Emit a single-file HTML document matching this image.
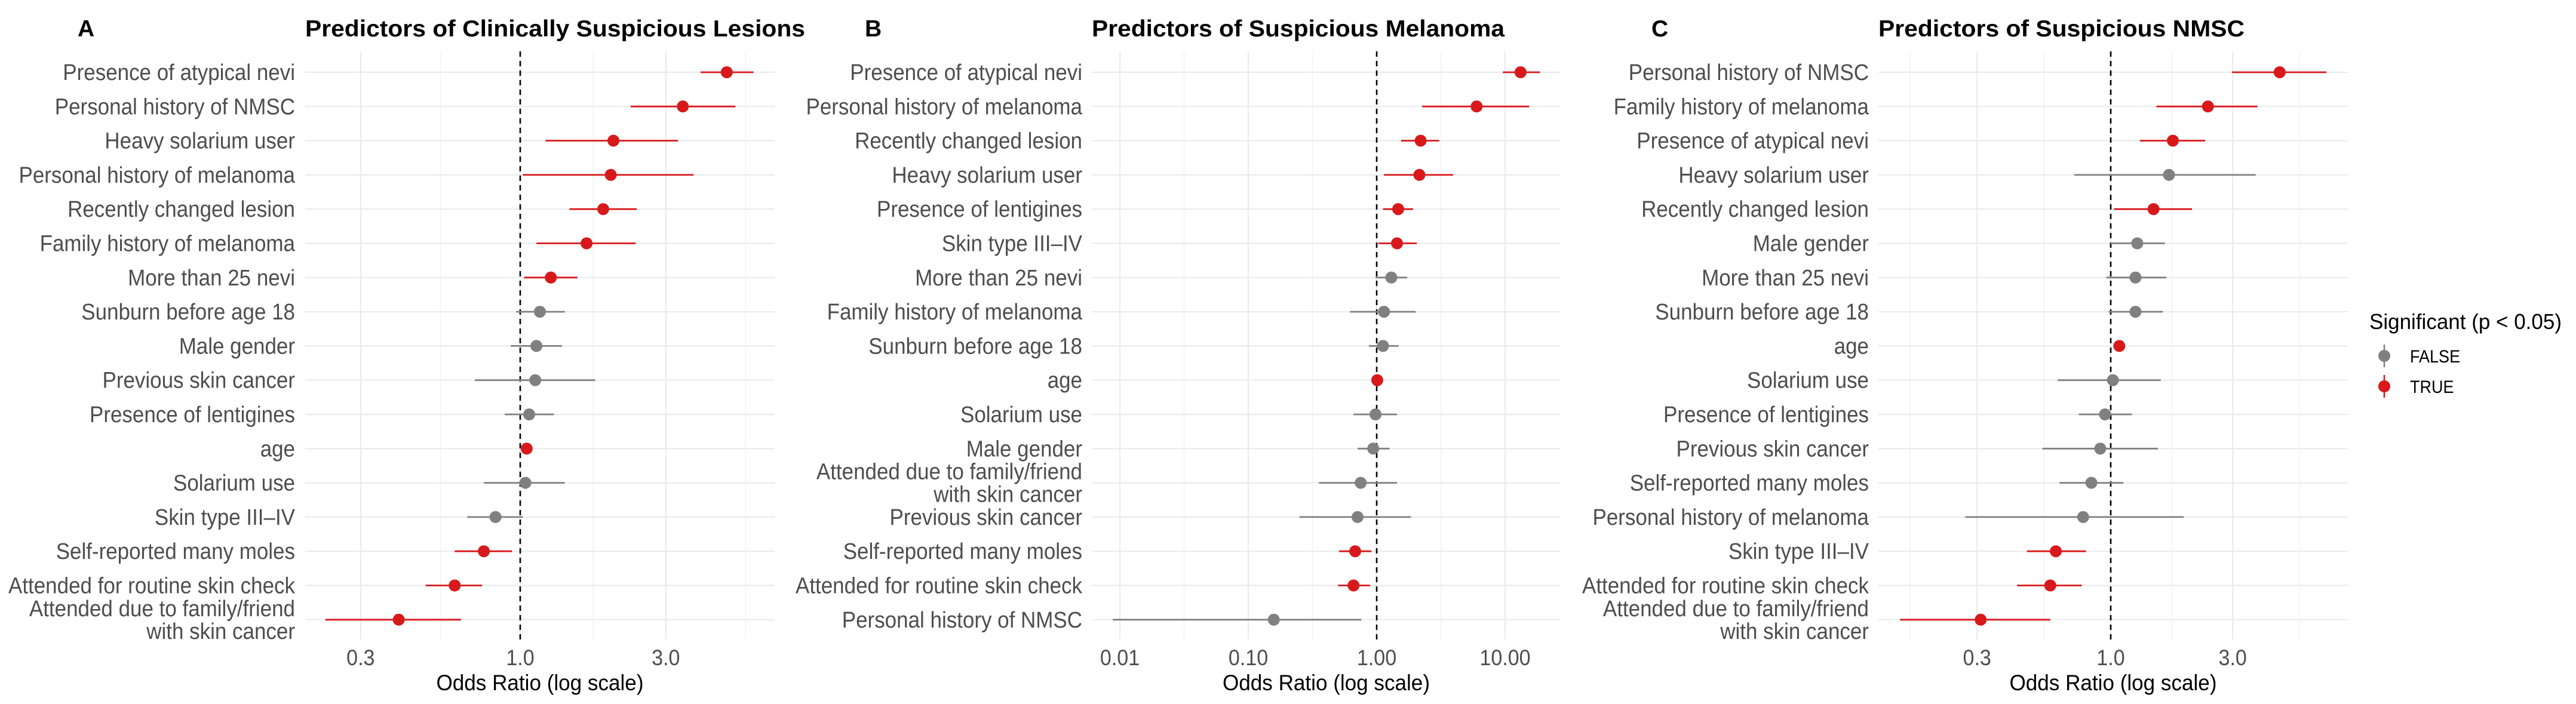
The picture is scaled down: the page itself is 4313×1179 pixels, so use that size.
<!DOCTYPE html>
<html><head><meta charset="utf-8"><style>
html,body{margin:0;padding:0;background:#fff;}
svg{display:block;font-family:"Liberation Sans",Arial,sans-serif;}
</style></head><body>
<svg id="fig" width="4313" height="1179" viewBox="0 0 4313 1179" xmlns="http://www.w3.org/2000/svg"></svg>
<script>
// Panel A data
const labelsA = ["Presence of atypical nevi","Personal history of NMSC","Heavy solarium user","Personal history of melanoma","Recently changed lesion","Family history of melanoma","More than 25 nevi","Sunburn before age 18","Male gender","Previous skin cancer","Presence of lentigines","age","Solarium use","Skin type III–IV","Self-reported many moles","Attended for routine skin check","Attended due to family/friend\nwith skin cancer"];
const orA = [4.75,3.41,2.02,1.98,1.87,1.65,1.26,1.16,1.13,1.12,1.07,1.05,1.04,0.83,0.76,0.61,0.40];
const loA = [3.90,2.30,1.21,1.02,1.45,1.13,1.03,0.97,0.93,0.71,0.89,1.02,0.76,0.67,0.61,0.49,0.23];
const hiA = [5.81,5.07,3.29,3.70,2.41,2.39,1.54,1.40,1.37,1.76,1.29,1.09,1.40,1.02,0.94,0.75,0.64];
const sigA = [1,1,1,1,1,1,1,0,0,0,0,1,0,0,1,1,1];
const ticksA = [0.3,1,3];
const tickLabelsA = ["0.3","1.0","3.0"];
const minorA = [0.548,1.732,5.477];
// Panel B data
const labelsB = ["Presence of atypical nevi","Personal history of melanoma","Recently changed lesion","Heavy solarium user","Presence of lentigines","Skin type III–IV","More than 25 nevi","Family history of melanoma","Sunburn before age 18","age","Solarium use","Male gender","Attended due to family/friend\nwith skin cancer","Previous skin cancer","Self-reported many moles","Attended for routine skin check","Personal history of NMSC"];
const orB = [13.2,6.0,2.2,2.15,1.47,1.44,1.30,1.14,1.12,1.01,0.98,0.94,0.75,0.71,0.68,0.66,0.158];
const loB = [9.6,2.26,1.55,1.14,1.12,1.03,0.98,0.62,0.87,0.99,0.66,0.71,0.355,0.25,0.51,0.50,0.0088];
const hiB = [18.7,15.4,3.07,3.94,1.92,2.05,1.73,2.01,1.48,1.04,1.44,1.26,1.44,1.85,0.91,0.89,0.76];
const sigB = [1,1,1,1,1,1,0,0,0,1,0,0,0,0,1,1,0];
const ticksB = [0.01,0.1,1,10];
const tickLabelsB = ["0.01","0.10","1.00","10.00"];
const minorB = [0.0316,0.316,3.16];
// Panel C data
const labelsC = ["Personal history of NMSC","Family history of melanoma","Presence of atypical nevi","Heavy solarium user","Recently changed lesion","Male gender","More than 25 nevi","Sunburn before age 18","age","Solarium use","Presence of lentigines","Previous skin cancer","Self-reported many moles","Personal history of melanoma","Skin type III–IV","Attended for routine skin check","Attended due to family/friend\nwith skin cancer"];
const orC = [4.58,2.40,1.75,1.69,1.47,1.27,1.25,1.25,1.08,1.02,0.95,0.91,0.84,0.78,0.61,0.58,0.31];
const loC = [2.98,1.51,1.30,0.72,1.03,1.00,0.96,0.98,1.05,0.62,0.75,0.54,0.63,0.27,0.47,0.43,0.15];
const hiC = [6.98,3.75,2.34,3.69,2.08,1.63,1.65,1.60,1.11,1.57,1.21,1.53,1.12,1.93,0.80,0.77,0.58];
const sigC = [1,1,1,0,1,0,0,0,1,0,0,0,0,0,1,1,1];
const ticksC = [0.3,1,3];
const tickLabelsC = ["0.3","1.0","3.0"];
const minorC = [0.164,0.548,1.732,5.477];

const NS="http://www.w3.org/2000/svg";
const svg=document.getElementById('fig');
const RED="#d7191c", GREY="#808080";
function mk(tag,attrs,parent){const e=document.createElementNS(NS,tag);for(const k in attrs)e.setAttribute(k,attrs[k]);(parent||svg).appendChild(e);return e;}
function squeeze(t,f){const w=t.getComputedTextLength();t.setAttribute('textLength',(w*f).toFixed(1));t.setAttribute('lengthAdjust','spacingAndGlyphs');}

const TOP=86,BOT=1071,Y0=121,STEP=57.3;
function panel(p){
  const g=mk('g',{});
  
  
  const xs=v=>p.x1+p.dec*Math.log10(v);
  const ys=i=>Y0+i*STEP;
  p.minor.forEach(v=>{const l=mk('line',{x1:xs(v),x2:xs(v),y1:TOP,y2:BOT,stroke:'#f2f2f2','stroke-width':1.5},g);
    });
  p.ticks.forEach(v=>{const l=mk('line',{x1:xs(v),x2:xs(v),y1:TOP,y2:BOT,stroke:'#ebebeb','stroke-width':2.2},g);
    });
  p.labels.forEach((lab,i)=>{const l=mk('line',{x1:p.left,x2:p.right,y1:ys(i),y2:ys(i),stroke:'#ebebeb','stroke-width':2.2},g);
    });
  const ref=mk('line',{x1:xs(1),x2:xs(1),y1:TOP,y2:BOT,stroke:'#000','stroke-width':2.6,'stroke-dasharray':'9,7'},g);
  
  p.labels.forEach((lab,i)=>{
    const parts=lab.split('\n');
    parts.forEach((s,k)=>{
      const y=ys(i)+13+(k-(parts.length-1)/2)*38;
      const t=mk('text',{x:p.labelX,y:y,'text-anchor':'end','font-size':38,fill:'#4d4d4d'},g);
      t.textContent=s;
      
      squeeze(t,0.92);
    });
  });
  p.labels.forEach((lab,i)=>{
    const c=p.sig[i]?RED:GREY;
    const e=mk('line',{x1:xs(p.lo[i]),x2:xs(p.hi[i]),y1:ys(i),y2:ys(i),stroke:c,'stroke-width':2.8},g);
    
    const d=mk('circle',{cx:xs(p.or[i]),cy:ys(i),r:10,fill:c},g);
    
  });
  p.ticks.forEach((v,i)=>{const t=mk('text',{x:xs(v),y:1114,'text-anchor':'middle','font-size':37,fill:'#4d4d4d'},g);
    t.textContent=p.tickLabels[i];squeeze(t,0.92);});
  const at=mk('text',{x:(p.left+p.right)/2,y:1156,'text-anchor':'middle','font-size':37,fill:'#000'},g);
  at.textContent='Odds Ratio (log scale)';
  at.setAttribute('textLength',347);at.setAttribute('lengthAdjust','spacingAndGlyphs');
  const tt=mk('text',{x:p.left,y:61,'font-size':39,'font-weight':'bold',fill:'#000'},g);
  tt.textContent=p.title;
  tt.setAttribute('textLength',p.titleW);tt.setAttribute('lengthAdjust','spacingAndGlyphs');
  const tg=mk('text',{x:p.tagX,y:61,'font-size':39,'font-weight':'bold',fill:'#000'},g);
  tg.textContent=p.id;
}
panel({id:'A',title:'Predictors of Clinically Suspicious Lesions',titleW:837,tagX:130,left:511,right:1297,x1:871,dec:511,labelX:494,
  labels:labelsA,or:orA,lo:loA,hi:hiA,sig:sigA,ticks:ticksA,tickLabels:tickLabelsA,minor:minorA});
panel({id:'B',title:'Predictors of Suspicious Melanoma',titleW:691,tagX:1448,left:1828,right:2613,x1:2305,dec:215,labelX:1812,
  labels:labelsB,or:orB,lo:loB,hi:hiB,sig:sigB,ticks:ticksB,tickLabels:tickLabelsB,minor:minorB});
panel({id:'C',title:'Predictors of Suspicious NMSC',titleW:613,tagX:2765,left:3145,right:3931,x1:3534,dec:428,labelX:3129,
  labels:labelsC,or:orC,lo:loC,hi:hiC,sig:sigC,ticks:ticksC,tickLabels:tickLabelsC,minor:minorC});

const lg=mk('g',{});


const lt=mk('text',{x:3967,y:551,'font-size':36,fill:'#000'},lg);
lt.textContent='Significant (p < 0.05)';


lt.setAttribute('textLength',322);lt.setAttribute('lengthAdjust','spacingAndGlyphs');
[['FALSE',GREY,596],['TRUE',RED,647]].forEach(([name,c,y])=>{
  const e=mk('g',{},lg);
  
  
  mk('line',{x1:3992,x2:3992,y1:y-19,y2:y+19,stroke:c,'stroke-width':2.6},e);
  mk('circle',{cx:3992,cy:y,r:10,fill:c},e);
  const t=mk('text',{x:4035,y:y+11,'font-size':30,fill:'#000'},e);
  t.textContent=name;
  squeeze(t,0.9);
});
</script>
</body></html>
